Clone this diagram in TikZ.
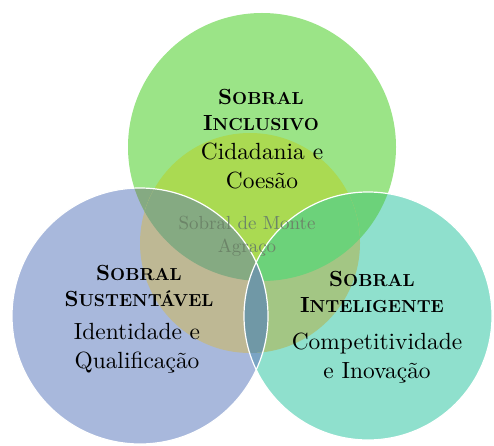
\documentclass[tikz,border=0pt]{standalone}
\usepackage{fontspec}
\setmainfont{lmroman10-regular}[Extension=.otf, BoldFont=lmroman10-bold]
\usepackage{tikz}
\definecolor{inclgreen}{RGB}{155,228,135}
\definecolor{coregreen}{RGB}{170,218,82}
\definecolor{sustblue}{RGB}{168,184,220}
\definecolor{inteaqua}{RGB}{143,224,205}
\definecolor{susttan}{RGB}{190,184,148}
\definecolor{inclsust}{RGB}{133,170,130}
\definecolor{inteolive}{RGB}{163,198,132}
\definecolor{inclinte}{RGB}{108,210,122}
\definecolor{sustinte}{RGB}{122,164,196}
\definecolor{allthree}{RGB}{112,152,166}
\definecolor{centregray}{RGB}{108,132,104}
\usetikzlibrary{positioning}

\newcommand{\capsword}[2]{{\fontsize{22}{24}\selectfont #1}{\fontsize{17.5}{19}\selectfont #2}}

\begin{document}
\begin{tikzpicture}[x=1bp,y=-1bp,
		title/.style={font=\bfseries\fontsize{17.5}{27}\selectfont, align=center, inner sep=0pt},
		motto/.style={font=\fontsize{23.5}{29}\selectfont, align=center, inner sep=0pt}]
	\useasboundingbox (0,0) rectangle (494,446);
	\pgfmathsetmacro{\rincl}{134}
	\pgfmathsetmacro{\rsust}{128}
	\pgfmathsetmacro{\rinte}{124}
	\pgfmathsetmacro{\rcore}{110}
	\coordinate (inclc) at (262,147);
	\coordinate (sustc) at (140,316);
	\coordinate (intec) at (368,316);
	\coordinate (corec) at (250,243);
	
	\fill[inclgreen] (inclc) circle (\rincl);
	\fill[sustblue] (sustc) circle (\rsust);
	\fill[inteaqua] (intec) circle (\rinte);
	\begin{scope}
		\clip (inclc) circle (\rincl);
		\fill[inclsust] (sustc) circle (\rsust);
		\fill[inclinte] (intec) circle (\rinte);
	\end{scope}
	\begin{scope}
		\clip (sustc) circle (\rsust);
		\fill[sustinte] (intec) circle (\rinte);
	\end{scope}
	
	\begin{scope}
		\clip (corec) circle (\rcore);
		\fill[coregreen] (inclc) circle (\rincl);
		\fill[susttan] (sustc) circle (\rsust);
		\fill[inteolive] (intec) circle (\rinte);
		\begin{scope}
			\clip (inclc) circle (\rincl);
			\fill[inclsust] (sustc) circle (\rsust);
			\fill[inclinte] (intec) circle (\rinte);
		\end{scope}
		\begin{scope}
			\clip (sustc) circle (\rsust);
			\fill[allthree] (intec) circle (\rinte);
		\end{scope}
	\end{scope}
	
	\draw[white, line width=1.2bp] (sustc) circle (\rsust);
	\draw[white, line width=1.2bp] (intec) circle (\rinte);
	
	\node[title] (incltitle) at (261,110) {\capsword{S}{OBRAL}\\\capsword{I}{NCLUSIVO}};
	\node[motto] (inclmotto) at (262,166) {Cidadania e\\Coesão};
	\node[title] (susttitle) at (139,286) {\capsword{S}{OBRAL}\\\capsword{S}{USTENTÁVEL}};
	\node[motto] (sustmotto) at (137,348) {Identidade e\\Qualificação};
	\node[title] (intetitle) at (372,292) {\capsword{S}{OBRAL}\\\capsword{I}{NTELIGENTE}};
	\node[motto] (intemotto) at (377,358) {Competitividade\\e Inovação};
	\node[font=\fontsize{19}{23}\selectfont, align=center, inner sep=0pt, text=centregray] (centre) at (247,236) {Sobral de Monte\\Agraço};
\end{tikzpicture}
\end{document}
